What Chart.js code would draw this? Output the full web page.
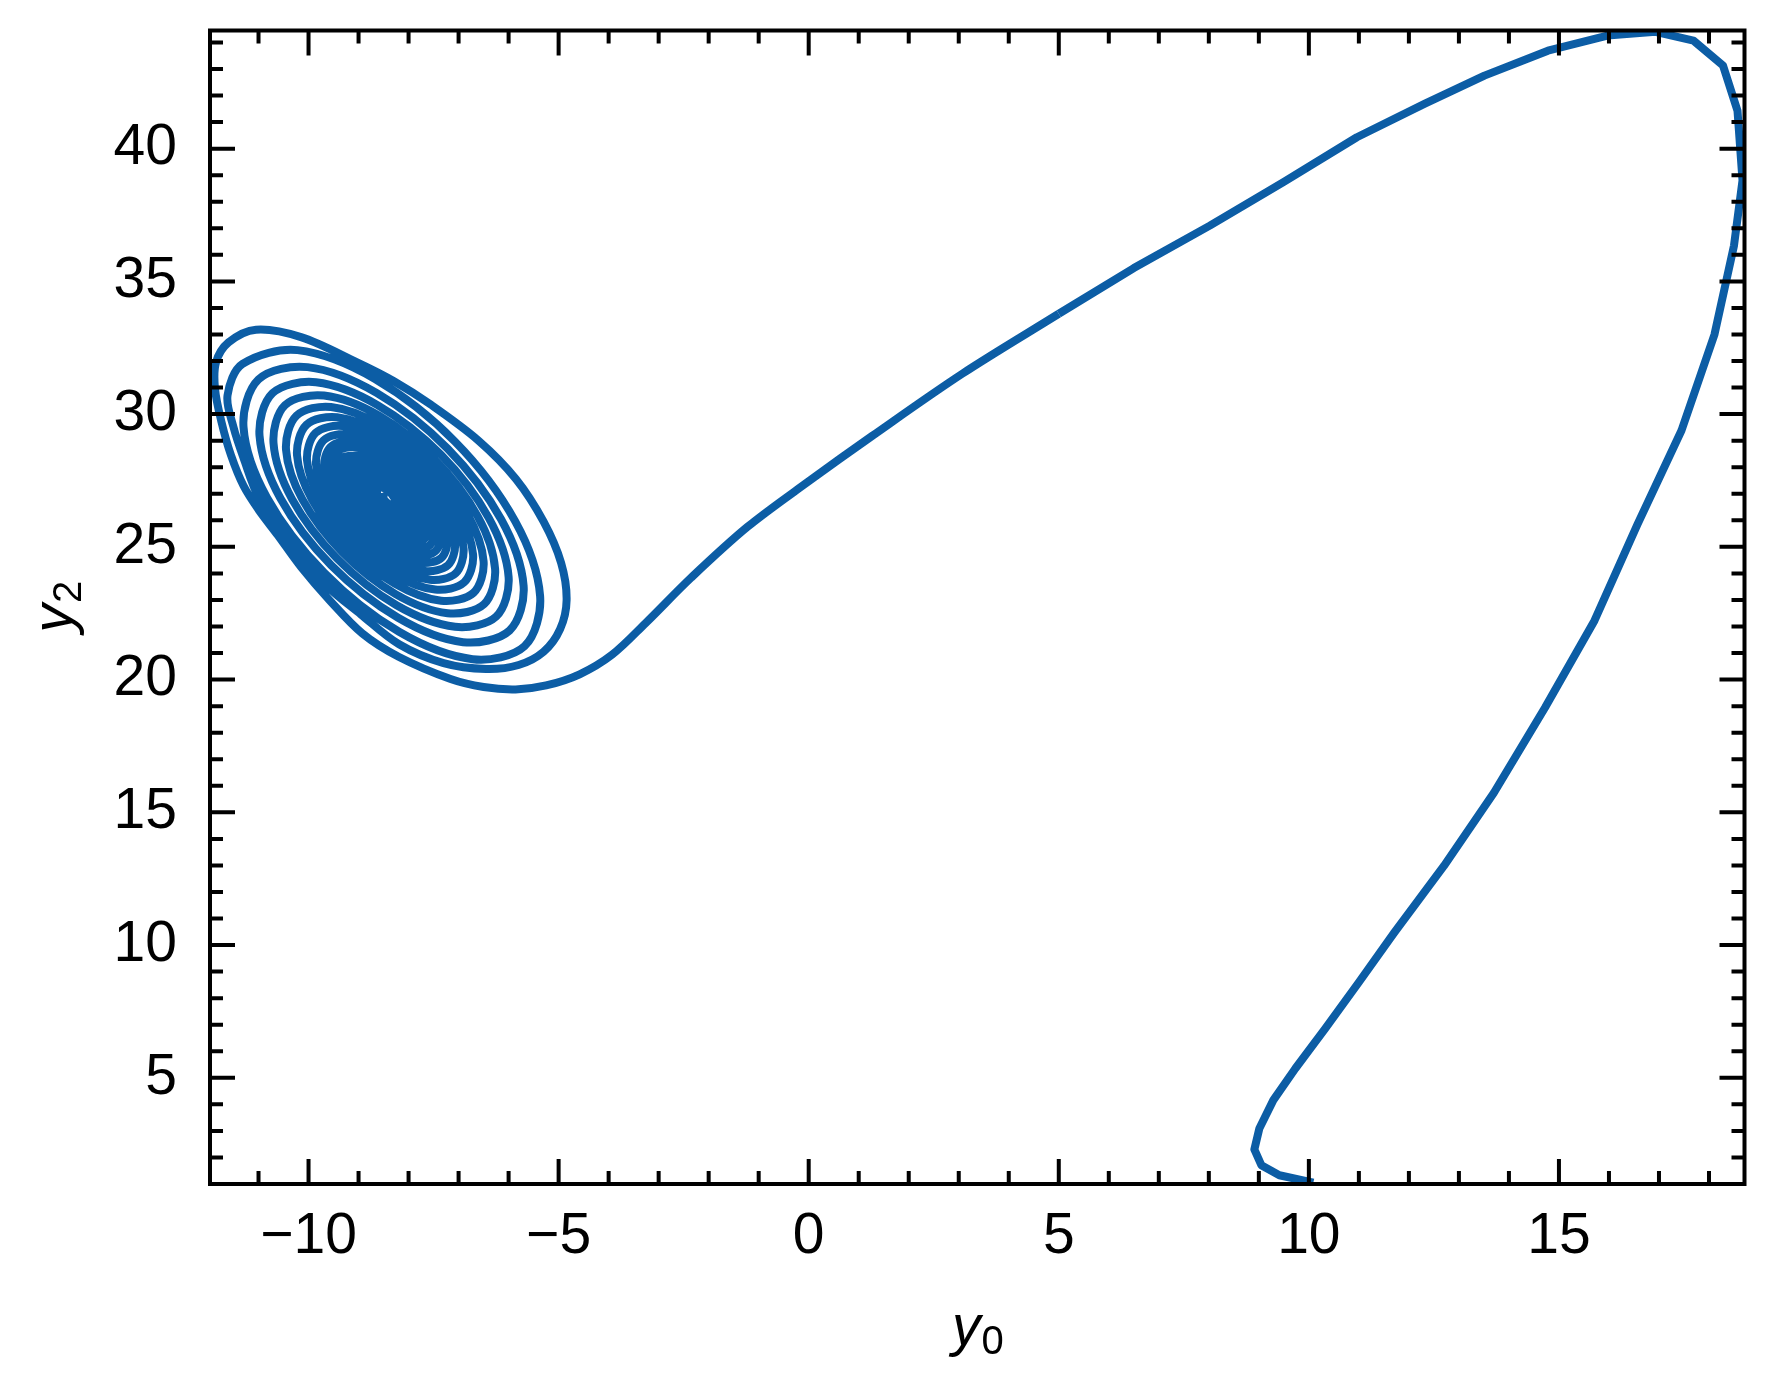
<!DOCTYPE html>
<html><head><meta charset="utf-8">
<script src="https://cdn.jsdelivr.net/npm/chart.js@4.4.0/dist/chart.umd.min.js"></script>
<style>html,body{margin:0;padding:0;background:#fff;}canvas{display:block;}</style>
</head><body>
<canvas id="c" width="1775" height="1385"></canvas>
<script>
// ---- axis settings / tick labels ----
const xRange = [-11.97, 18.71];
const yRange = [1.0, 44.45];
const xTickValues = [-10, -5, 0, 5, 10, 15];
const yTickValues = [5, 10, 15, 20, 25, 30, 35, 40];
const xTitle = ['y', '0'];
const yTitle = ['y', '2'];

// ---- trajectory: rise from start, big arc at top right ----
const riseX = [10.09, 9.41, 9.05, 8.91, 9.01, 9.29, 9.73, 10.33, 11.0, 11.7, 12.70, 13.70, 14.72, 15.71, 16.57, 17.45, 18.11, 18.50, 18.67, 18.57, 18.28, 17.69, 16.93, 15.97, 14.78, 13.51, 12.31, 10.96, 9.5, 8.02, 6.5, 5.0];
const riseY = [1.05, 1.33, 1.71, 2.30, 3.09, 4.16, 5.35, 6.86, 8.6, 10.45, 12.98, 15.74, 18.94, 22.22, 25.85, 29.38, 33.0, 36.35, 38.8, 41.43, 43.13, 44.07, 44.40, 44.26, 43.69, 42.75, 41.69, 40.43, 38.75, 37.1, 35.5, 33.78];

// ---- descent into the spiral, outermost turn ----
const approachX = [5.0, 3.07, 1.27, 0, -1.22, -2.35, -3.26, -3.93, -4.58, -5.25, -5.86, -6.5, -7.16, -8.19, -8.92, -9.58, -10.15, -10.62, -11.0, -11.3, -11.55, -11.74, -11.87, -11.85, -11.6, -11.05];
const approachY = [33.78, 31.52, 29.18, 27.47, 25.76, 23.84, 22.13, 20.94, 20.2, 19.78, 19.63, 19.72, 20.02, 20.85, 21.73, 22.99, 24.24, 25.45, 26.4, 27.3, 28.45, 29.7, 30.95, 31.95, 32.7, 33.18];

const loop1X = [-10.15, -9.05, -8.3, -7.55, -6.6, -5.85, -5.3, -4.95, -4.84, -4.97, -5.3, -5.8, -6.45, -7.3, -8.19, -8.95, -9.69, -10.4, -10.99, -11.3, -11.50, -11.62];
const loop1Y = [32.9, 31.97, 31.25, 30.35, 29.0, 27.55, 25.95, 24.4, 23.0, 21.9, 21.05, 20.55, 20.4, 20.62, 21.33, 22.45, 23.63, 25.35, 26.85, 28.35, 29.51, 30.7];

// ---- inner turns of the spiral ----
const spiralX = [
 -11.32,-10.22,-8.67,-7.07,-5.87,-5.37,-5.68,-6.72,-8.19,-9.69,-10.83,-11.30,
 -11.00,-10.02,-8.64,-7.22,-6.15,-5.70,-5.98,-6.91,-8.21,-9.55,-10.56,-10.98,
 -10.72,-9.85,-8.62,-7.35,-6.40,-6.00,-6.25,-7.07,-8.24,-9.43,-10.33,-10.70,
 -10.47,-9.69,-8.59,-7.47,-6.62,-6.27,-6.49,-7.22,-8.26,-9.32,-10.12,-10.45,
 -10.24,-9.55,-8.57,-7.58,-6.82,-6.50,-6.70,-7.35,-8.27,-9.22,-9.93,-10.23,
 -10.04,-9.43,-8.56,-7.67,-7.00,-6.71,-6.89,-7.47,-8.29,-9.13,-9.76,-10.03,
 -9.86,-9.32,-8.54,-7.75,-7.15,-6.90,-7.06,-7.57,-8.30,-9.05,-9.62,-9.85,
 -9.70,-9.22,-8.53,-7.83,-7.29,-7.07,-7.21,-7.67,-8.32,-8.98,-9.48,-9.69,
 -9.56,-9.13,-8.52,-7.89,-7.42,-7.22,-7.34,-7.75,-8.33,-8.92,-9.37,-9.55,
 -9.44,-9.05,-8.51,-7.95,-7.53,-7.35,-7.46,-7.82,-8.34,-8.87,-9.26,-9.43];
const spiralY = [
 31.89,32.41,31.32,28.96,25.97,23.15,21.26,20.77,21.80,24.03,26.85,29.51,
 31.31,31.77,30.80,28.70,26.04,23.53,21.85,21.41,22.33,24.31,26.82,29.19,
 30.79,31.20,30.34,28.47,26.10,23.87,22.37,21.99,22.80,24.56,26.80,28.90,
 30.34,30.70,29.94,28.27,26.16,24.17,22.84,22.50,23.22,24.79,26.78,28.66,
 29.94,30.27,29.59,28.10,26.22,24.46,23.27,22.97,23.61,25.01,26.78,28.45,
 29.60,29.88,29.28,27.96,26.29,24.71,23.66,23.39,23.96,25.20,26.78,28.26,
 29.29,29.55,29.01,27.83,26.34,24.94,24.00,23.76,24.27,25.38,26.78,28.10,
 29.01,29.24,28.76,27.71,26.39,25.14,24.31,24.09,24.55,25.53,26.78,27.96,
 28.77,28.98,28.55,27.62,26.44,25.33,24.59,24.40,24.80,25.68,26.79,27.83,
 28.57,28.75,28.37,27.54,26.49,25.50,24.84,24.67,25.03,25.81,26.80,27.73];

// ---- solid core of the spiral ----
const coreX = [
 -9.32,-8.50,-7.63,-7.57,-8.35,-9.16,
 -9.22,-8.49,-7.72,-7.68,-8.36,-9.07,
 -9.11,-8.48,-7.82,-7.78,-8.37,-8.98,
 -9.01,-8.47,-7.91,-7.88,-8.37,-8.88,
 -8.91,-8.46,-8.00,-7.98,-8.38,-8.79,
 -8.81,-8.45,-8.09,-8.08,-8.39,-8.70,
 -8.71,-8.44,-8.18,-8.18,-8.40,-8.61,
 -8.61,-8.44,-8.28,-8.28,-8.41,-8.52,
 -8.42];
const coreY = [
 28.38,28.20,26.53,25.07,25.24,26.80,
 28.20,28.04,26.58,25.30,25.45,26.82,
 28.03,27.88,26.61,25.51,25.64,26.82,
 27.87,27.74,26.66,25.73,25.84,26.83,
 27.71,27.60,26.71,25.95,26.05,26.85,
 27.54,27.45,26.74,26.16,26.24,26.85,
 27.38,27.30,26.79,26.38,26.44,26.86,
 27.22,27.16,26.83,26.59,26.64,26.88,
 26.88];

const zip = (xs, ys) => xs.map((v, i) => ({x: v, y: ys[i]}));
const risePts = zip(riseX, riseY);
const spiralPts = [].concat(zip(approachX, approachY), zip(loop1X, loop1Y), zip(spiralX, spiralY), zip(coreX, coreY));

const LINE = '#0C5DA5';
const FONT = '"Liberation Sans", Arial, Helvetica, sans-serif';
const FS = 57;
const minus = v => String(v).replace('-', '\u2212');
const noPad = s => { s.paddingTop = 0; s.paddingBottom = 0; s.paddingLeft = 0; s.paddingRight = 0; };

const framePlugin = {
  id: 'frame',
  beforeDraw(chart) {
    const c = chart.ctx; c.save(); c.fillStyle = '#fff'; c.fillRect(0, 0, chart.width, chart.height); c.restore();
  },
  afterDatasetsDraw(chart) {
    const {ctx, chartArea: a, scales: {x, y}} = chart;
    ctx.save();
    ctx.strokeStyle = '#000';
    ctx.lineWidth = 4;
    ctx.lineCap = 'butt';
    ctx.beginPath();
    for (let v = Math.ceil(x.min); v <= Math.floor(x.max); v++) {
      const p = x.getPixelForValue(v), L = (v % 5 === 0) ? 25 : 13;
      ctx.moveTo(p, a.bottom); ctx.lineTo(p, a.bottom - L);
      ctx.moveTo(p, a.top); ctx.lineTo(p, a.top + L);
    }
    for (let v = Math.ceil(y.min); v <= Math.floor(y.max); v++) {
      const p = y.getPixelForValue(v), L = (v % 5 === 0) ? 25 : 13;
      ctx.moveTo(a.left, p); ctx.lineTo(a.left + L, p);
      ctx.moveTo(a.right, p); ctx.lineTo(a.right - L, p);
    }
    ctx.stroke();
    ctx.lineJoin = 'miter';
    ctx.strokeRect(a.left, a.top, a.right - a.left, a.bottom - a.top);
    ctx.restore();
  },
  afterDraw(chart) {
    const {ctx, chartArea: a} = chart;
    const drawLabel = (cx, baseY, parts) => {
      ctx.font = 'italic ' + FS + 'px ' + FONT;
      const w1 = ctx.measureText(parts[0]).width;
      ctx.font = Math.round(FS * 0.7) + 'px ' + FONT;
      const w2 = ctx.measureText(parts[1]).width;
      const start = cx - (w1 + w2) / 2;
      ctx.fillStyle = '#000';
      ctx.textAlign = 'left';
      ctx.textBaseline = 'alphabetic';
      ctx.font = 'italic ' + FS + 'px ' + FONT;
      ctx.fillText(parts[0], start, baseY);
      ctx.font = Math.round(FS * 0.7) + 'px ' + FONT;
      ctx.fillText(parts[1], start + w1 + 1, baseY + 9);
    };
    ctx.save();
    drawLabel((a.left + a.right) / 2, 1345, xTitle);
    ctx.restore();
    ctx.save();
    ctx.translate(72, (a.top + a.bottom) / 2);
    ctx.rotate(-Math.PI / 2);
    drawLabel(0, 0, yTitle);
    ctx.restore();
  }
};

Chart.defaults.font.family = FONT;
new Chart(document.getElementById('c'), {
  type: 'scatter',
  data: {
    datasets: [
      {data: risePts, showLine: true, borderColor: LINE, borderWidth: 8, pointRadius: 0, tension: 0, borderJoinStyle: 'round', borderCapStyle: 'butt', clip: 0},
      {data: spiralPts, showLine: true, borderColor: LINE, borderWidth: 8, pointRadius: 0, tension: 0.33, borderJoinStyle: 'round', borderCapStyle: 'butt', clip: 0}
    ]
  },
  options: {
    responsive: false,
    devicePixelRatio: 1,
    animation: false,
    layout: {padding: {top: 30.5, right: 30.5, left: 0, bottom: 0}},
    plugins: {legend: {display: false}, tooltip: {enabled: false}},
    scales: {
      x: {
        type: 'linear', min: xRange[0], max: xRange[1],
        grid: {display: false, drawTicks: false}, border: {display: false},
        afterBuildTicks: s => { s.ticks = xTickValues.map(v => ({value: v})); },
        afterFit: s => { s.height = 201; noPad(s); },
        ticks: {color: '#000', font: {size: FS}, padding: 19, maxRotation: 0, callback: v => minus(v)}
      },
      y: {
        type: 'linear', min: yRange[0], max: yRange[1],
        grid: {display: false, drawTicks: false}, border: {display: false},
        afterBuildTicks: s => { s.ticks = yTickValues.map(v => ({value: v})); },
        afterFit: s => { s.width = 210; noPad(s); },
        ticks: {color: '#000', font: {size: FS}, padding: 33, callback: v => minus(v)}
      }
    }
  },
  plugins: [framePlugin]
});
</script>
</body></html>
